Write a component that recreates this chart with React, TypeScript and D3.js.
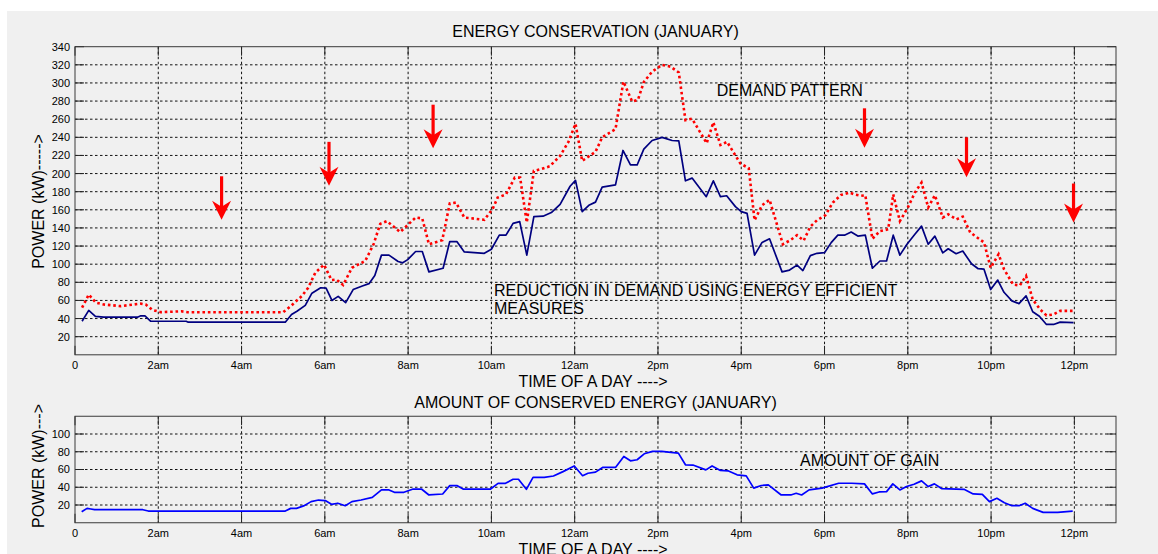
import React from "react";
import * as d3 from "d3";

// ---------- data ----------
const xTickHours = [0, 2, 4, 6, 8, 10, 12, 14, 16, 18, 20, 22, 24];
const xTickLabels = ["0", "2am", "4am", "6am", "8am", "10am", "12am", "2pm", "4pm", "6pm", "8pm", "10pm", "12pm"];
const topYTicks = [20, 40, 60, 80, 100, 120, 140, 160, 180, 200, 220, 240, 260, 280, 300, 320, 340];
const botYTicks = [20, 40, 60, 80, 100];

// Demand pattern (red dotted)
const demandHours = [
  0.17, 0.33, 0.5, 0.69, 1.1, 1.58, 1.7, 1.86, 2.06, 2.55, 2.7, 5.0, 5.2, 5.45, 5.6, 5.77, 5.98,
  6.16, 6.28, 6.44, 6.65, 6.97, 7.17, 7.33, 7.49, 7.81, 8.18, 8.34, 8.5, 8.82, 9.0, 9.15, 9.35,
  9.83, 10.03, 10.15, 10.35, 10.56, 10.69, 10.85, 11.02, 11.2, 11.4, 11.65, 11.85, 12.02, 12.18,
  12.5, 12.66, 12.98, 13.17, 13.38, 13.52, 13.66, 13.86, 14.1, 14.3, 14.5, 14.66, 14.82, 15.17,
  15.33, 15.5, 15.66, 15.98, 16.18, 16.32, 16.5, 16.68, 17.0, 17.18, 17.34, 17.5, 17.66, 17.82,
  18.02, 18.2, 18.4, 18.6, 18.72, 18.88, 18.98, 19.15, 19.33, 19.53, 19.65, 19.81, 20.0, 20.17,
  20.33, 20.49, 20.65, 20.84, 20.97, 21.17, 21.32, 21.5, 21.83, 21.99, 22.18, 22.31, 22.53, 22.69,
  22.84, 23.0, 23.18, 23.33, 23.5, 23.66, 23.98,
];
const demandKW = [
  52, 66.5, 57.5, 55.5, 53.7, 56.5, 55.5, 49.5, 47, 48, 47, 47, 54.5, 65, 74, 90.5, 99.5,
  82.5, 83, 77, 96, 103.5, 122, 144.5, 147.5, 135.5, 151.5, 150.5, 122, 126.5, 167, 168, 151.5,
  149, 161, 173.5, 177, 195.5, 195.5, 146, 203, 205, 208, 219.5, 235, 255, 214,
  224, 240, 249, 301.5, 279.5, 281.5, 301, 312.5, 320, 318, 311.5, 259, 260.5, 233.5,
  256.5, 231.5, 235, 211, 206, 148.5, 165, 171, 122, 126.5, 132, 126, 141.5, 148.5,
  154, 168, 176.5, 179, 177, 175.5, 176, 128, 136.5, 138.5, 177, 147.5, 162.5, 179,
  190, 162.5, 176, 151.5, 155, 149.5, 152.5, 135, 124, 96, 111, 94.5, 77.5, 76.5,
  87, 61, 50, 43.5, 44.5, 48.5, 48.5,
];

// Reduced demand with energy efficient measures (navy solid)
const reducedHours = [
  0.17, 0.33, 0.49, 0.69, 1.5, 1.58, 1.68, 1.82, 2.67, 2.72, 5.05, 5.2, 5.33, 5.53, 5.69, 5.9,
  6.03, 6.17, 6.32, 6.5, 6.68, 6.9, 7.06, 7.2, 7.36, 7.54, 7.76, 7.87, 7.99, 8.18, 8.34, 8.5,
  8.84, 9.0, 9.17, 9.35, 9.83, 10.0, 10.19, 10.35, 10.52, 10.68, 10.85, 11.02, 11.24, 11.44,
  11.65, 11.89, 12.02, 12.18, 12.34, 12.5, 12.66, 12.98, 13.16, 13.34, 13.5, 13.66, 13.86, 14.1,
  14.34, 14.5, 14.66, 14.82, 15.16, 15.33, 15.5, 15.65, 15.86, 16.0, 16.14, 16.32, 16.5, 16.68,
  16.98, 17.16, 17.34, 17.48, 17.66, 17.82, 18.0, 18.16, 18.32, 18.48, 18.64, 18.8, 18.98, 19.15,
  19.33, 19.49, 19.65, 19.81, 19.98, 20.17, 20.33, 20.49, 20.65, 20.84, 20.97, 21.16, 21.32,
  21.53, 21.69, 21.83, 21.99, 22.16, 22.31, 22.5, 22.67, 22.84, 23.0, 23.16, 23.33, 23.5, 23.66, 23.98,
];
const reducedKW = [
  37, 49, 42.5, 41.5, 41.5, 43, 43, 37, 37, 36, 36, 44.5, 48, 54.5, 68, 74,
  73.5, 60, 64.5, 57.5, 72, 76, 78.5, 87.5, 110, 110, 103, 101.5, 105, 114, 114, 91.5,
  95.5, 125, 125, 113.5, 112, 116.5, 132, 132, 145, 147, 110, 152.5, 153, 157,
  166, 186, 192.5, 158, 165, 168.5, 185, 187.5, 225.5, 209.5, 209.5, 227, 236.5, 240,
  236.5, 236, 192, 195, 174.5, 192, 174.5, 175.5, 163.5, 158, 156, 110, 124, 128,
  91.5, 93.5, 99, 93, 109.5, 112, 112.7, 123.8, 132, 132, 135.5, 131, 132, 95.5,
  103.5, 103.5, 132, 110, 122, 133, 142, 122, 131, 112.5, 117, 111.5, 114.5,
  100.5, 95, 94.5, 72, 82.5, 69, 59.5, 56.5, 65, 47.5, 42.5, 33.5, 33.5, 36, 35.5,
];

// Amount of conserved energy (blue)
const gainHours = [
  0.16, 0.29, 0.38, 0.47, 1.63, 1.76, 5.05, 5.18, 5.32, 5.49, 5.67, 5.85, 6.01, 6.16, 6.31, 6.49,
  6.65, 6.87, 7.14, 7.36, 7.54, 7.67, 7.9, 8.12, 8.32, 8.5, 8.83, 9.0, 9.18, 9.32, 9.98, 10.16,
  10.34, 10.52, 10.65, 10.84, 11.0, 11.27, 11.49, 11.72, 11.99, 12.19, 12.32, 12.5, 12.67, 12.98,
  13.18, 13.34, 13.5, 13.67, 13.87, 14.09, 14.31, 14.49, 14.66, 14.84, 15.15, 15.3, 15.5, 15.68,
  15.9, 16.12, 16.3, 16.48, 16.65, 16.96, 17.19, 17.32, 17.45, 17.63, 17.94, 18.34, 18.65, 18.96,
  19.15, 19.31, 19.49, 19.64, 19.81, 19.97, 20.15, 20.33, 20.49, 20.64, 20.81, 21.35, 21.57,
  21.79, 21.96, 22.14, 22.32, 22.5, 22.67, 22.82, 23.0, 23.25, 23.6, 23.96,
];
const gainKW = [
  12.5, 16.2, 15.5, 14.7, 14.7, 13.2, 13.2, 16.2, 16.2, 19, 23.8, 25.6, 25, 20.8, 22, 19.2,
  23.8, 25.6, 28.6, 37, 37, 34.3, 34.3, 38, 38, 31.3, 32.4, 41.8, 41.8, 38, 38, 44.4,
  44.4, 49, 49, 37.7, 51.2, 51.2, 52.7, 57.6, 64, 53, 55.8, 57, 62.3, 62.3,
  74.7, 69.8, 71, 77.7, 80.4, 80.4, 79.2, 78.5, 65.3, 65, 59.6, 64, 59, 58.5,
  54, 52.8, 39, 42, 42.6, 31.3, 31.3, 33.2, 31.3, 37, 39, 44.5, 44.5, 43.8,
  32.5, 34.7, 35.1, 43.8, 37, 40.8, 43.4, 47.2, 40.8, 43.8, 38.5, 37.7, 32.5,
  32, 23.8, 27.5, 22.6, 19.2, 19.2, 21.9, 16.2, 11.7, 11.7, 13.2,
];

// Red annotation arrows (hour, top of shaft kW, tip kW)
const arrowHours = [3.52, 6.1, 8.6, 18.96, 21.41, 23.98];
const arrowTopKW = [197, 235, 276, 272, 240, 189];
const arrowTipKW = [149, 186.5, 228, 228.5, 196, 146];

// ---------- layout ----------
const W = 1158;
const H = 554;
const FONT = "'Liberation Sans', Arial, Helvetica, sans-serif";
const L = 75;
const R = 1116;
const TICK = 9;

const x = d3.scaleLinear().domain([0, 25]).range([L, R]);
const yT = d3.scaleLinear().domain([0, 340]).range([354.8, 46.7]);
const yB = d3.scaleLinear().domain([0, 120]).range([522.75, 416.25]);

type Scale = d3.ScaleLinear<number, number>;

function Axes({ y, yTicks, labelBaseline }: { y: Scale; yTicks: number[]; labelBaseline: number }) {
  const [yb, yt] = y.range();
  return (
    <g>
      {/* grid */}
      {xTickHours.filter((h) => h > 0).map((h) => (
        <line key={"vg" + h} x1={x(h)} x2={x(h)} y1={yt} y2={yb} stroke="#111" strokeWidth={1} strokeDasharray="2.5,2.5" />
      ))}
      {yTicks.filter((v) => y(v) > yt + 0.5).map((v) => (
        <line key={"hg" + v} x1={L} x2={R} y1={y(v)} y2={y(v)} stroke="#111" strokeWidth={1} strokeDasharray="2.5,2.5" />
      ))}
      {/* ticks */}
      {xTickHours.map((h) => (
        <g key={"xt" + h}>
          <line x1={x(h)} x2={x(h)} y1={yb} y2={yb - TICK} stroke="#222" />
          <line x1={x(h)} x2={x(h)} y1={yt} y2={yt + TICK} stroke="#222" />
        </g>
      ))}
      {yTicks.map((v) => (
        <g key={"yt" + v}>
          <line x1={L} x2={L + TICK} y1={y(v)} y2={y(v)} stroke="#222" />
          <line x1={R} x2={R - TICK} y1={y(v)} y2={y(v)} stroke="#222" />
        </g>
      ))}
      {/* box */}
      <rect x={L} y={yt} width={R - L} height={yb - yt} fill="none" stroke="#3a3a3a" strokeWidth={1} />
      {/* labels */}
      {xTickHours.map((h, i) => (
        <text key={"xl" + h} x={x(h)} y={labelBaseline} textAnchor="middle" fontSize={11} fontFamily={FONT} fill="#000">
          {xTickLabels[i]}
        </text>
      ))}
      {yTicks.map((v) => (
        <text key={"yl" + v} x={L - 5} y={y(v)} dy="0.36em" textAnchor="end" fontSize={11} fontFamily={FONT} fill="#000">
          {v}
        </text>
      ))}
    </g>
  );
}

function pathFor(hours: number[], vals: number[], y: Scale) {
  const pts: [number, number][] = hours.map((h, i) => [h, vals[i]]);
  return d3
    .line<[number, number]>()
    .x((d) => x(d[0]))
    .y((d) => y(d[1]))(pts) as string;
}

export default function App() {
  return (
    <svg width={W} height={H} style={{ position: "absolute", left: 0, top: 0, background: "#fff" }}>
      <rect x={7} y={11} width={W - 7} height={H - 11} fill="#f0f0f0" />

      {/* ---- top chart ---- */}
      <Axes y={yT} yTicks={topYTicks} labelBaseline={368.5} />
      <path d={pathFor(reducedHours, reducedKW, yT)} fill="none" stroke="#000080" strokeWidth={1.7} strokeLinejoin="round" />
      <path d={pathFor(demandHours, demandKW, yT)} fill="none" stroke="#ff0000" strokeWidth={2.6} strokeDasharray="2.6,2.8" />
      {arrowHours.map((h, i) => {
        const xa = x(h);
        const y0 = yT(arrowTopKW[i]);
        const y1 = yT(arrowTipKW[i]);
        return (
          <g key={"ar" + i}>
            <line x1={xa} x2={xa} y1={y0} y2={y1 - 10} stroke="#ff0000" strokeWidth={3.2} />
            <polygon
              points={`${xa},${y1} ${xa - 9.5},${y1 - 19} ${xa},${y1 - 13} ${xa + 9.5},${y1 - 19}`}
              fill="#ff0000"
            />
          </g>
        );
      })}
      <text x={(L + R) / 2} y={37.3} textAnchor="middle" fontSize={16} fontFamily={FONT}>
        ENERGY CONSERVATION (JANUARY)
      </text>
      <text x={716.7} y={96} fontSize={16} fontFamily={FONT}>DEMAND PATTERN</text>
      <text x={494} y={296} fontSize={16} fontFamily={FONT}>REDUCTION IN DEMAND USING ENERGY EFFICIENT</text>
      <text x={494} y={314.3} fontSize={16} fontFamily={FONT}>MEASURES</text>
      <text x={593} y={387} textAnchor="middle" fontSize={16} fontFamily={FONT}>TIME OF A DAY ----&gt;</text>
      <text transform="translate(43.5,201.5) rotate(-90)" textAnchor="middle" fontSize={16} fontFamily={FONT}>
        POWER (kW)-----&gt;
      </text>

      {/* ---- bottom chart ---- */}
      <Axes y={yB} yTicks={botYTicks} labelBaseline={536.5} />
      <path d={pathFor(gainHours, gainKW, yB)} fill="none" stroke="#0000ff" strokeWidth={1.7} strokeLinejoin="round" />
      <text x={(L + R) / 2} y={407.5} textAnchor="middle" fontSize={16} fontFamily={FONT}>
        AMOUNT OF CONSERVED ENERGY (JANUARY)
      </text>
      <text x={800} y={465.5} fontSize={16} fontFamily={FONT}>AMOUNT OF GAIN</text>
      <text x={593} y={555} textAnchor="middle" fontSize={16} fontFamily={FONT}>TIME OF A DAY ----&gt;</text>
      <text transform="translate(43.5,466) rotate(-90)" textAnchor="middle" fontSize={16} fontFamily={FONT}>
        POWER (kW)---&gt;
      </text>
    </svg>
  );
}
